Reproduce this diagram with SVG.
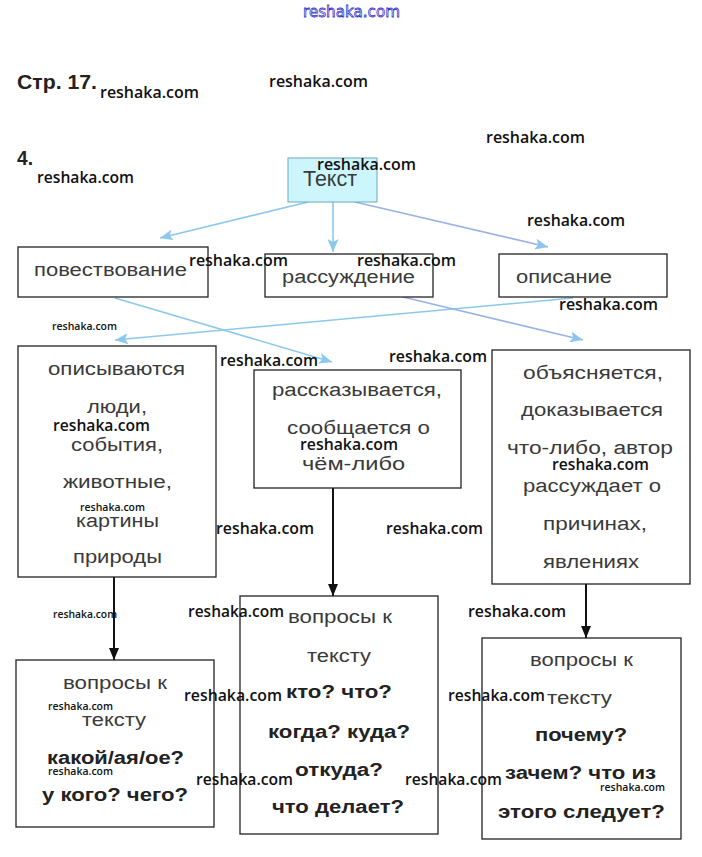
<svg xmlns="http://www.w3.org/2000/svg" width="702" height="857" viewBox="0 0 702 857">
<defs>
<marker id="ab" markerUnits="userSpaceOnUse" markerWidth="13" markerHeight="11" viewBox="0 0 13 11" refX="13" refY="5.5" orient="auto"><path d="M0,0 L13,5.5 L0,11 L3,5.5 Z" fill="#8cc8ee"/></marker>
<marker id="ap" markerUnits="userSpaceOnUse" markerWidth="13" markerHeight="11" viewBox="0 0 13 11" refX="13" refY="5.5" orient="auto"><path d="M0,0 L13,5.5 L0,11 L3,5.5 Z" fill="#8cc4ee"/></marker>
<marker id="ak" markerUnits="userSpaceOnUse" markerWidth="12" markerHeight="10" viewBox="0 0 12 10" refX="12" refY="5" orient="auto"><path d="M0,0 L12,5 L0,10 Z" fill="#111"/></marker>
</defs>
<style>
.box{fill:#fff;stroke:#222;stroke-width:1.3}
.t{font-family:"Liberation Sans",Arial,sans-serif;font-size:18px;fill:#3a3a3a}
.b{font-family:"Liberation Sans",Arial,sans-serif;font-size:18px;font-weight:bold;fill:#222}
.w{font-family:"Open Sans","Liberation Sans",sans-serif;font-size:16px;font-weight:600;fill:#111}
.ws{font-family:"Open Sans","Liberation Sans",sans-serif;font-size:11px;font-weight:600;fill:#111}
.h{font-family:"Liberation Sans",Arial,sans-serif;font-size:20px;font-weight:bold;fill:#222}
.cb{stroke:#8cc8ee;stroke-width:1.6;fill:none}
.cp{stroke:#98b4e6;stroke-width:1.6;fill:none}
.ck{stroke:#111;stroke-width:2;fill:none}
</style>
<rect width="702" height="857" fill="#fff"/>
<text x="303" y="17" textLength="97" lengthAdjust="spacingAndGlyphs" style="font-family:'DejaVu Sans',sans-serif;font-size:16px;fill:#fff;stroke:#3535cc;stroke-width:0.8">reshaka.com</text>
<text class="h" x="17" y="89" textLength="80" lengthAdjust="spacingAndGlyphs">Стр. 17.</text>
<text class="h" x="17" y="165" textLength="16" lengthAdjust="spacingAndGlyphs">4.</text>

<g id="connectors">
<line class="cb" x1="308" y1="202" x2="160" y2="238" marker-end="url(#ab)"/>
<line class="cb" x1="333" y1="202" x2="333" y2="252" marker-end="url(#ab)"/>
<line class="cp" x1="355" y1="202" x2="548" y2="247" marker-end="url(#ap)"/>
<line class="cb" x1="115" y1="298" x2="332" y2="362" marker-end="url(#ab)"/>
<line class="cb" x1="573" y1="298" x2="115" y2="340" marker-end="url(#ab)"/>
<line class="cp" x1="403" y1="297" x2="583" y2="340" marker-end="url(#ap)"/>
<line class="ck" x1="114" y1="577" x2="114" y2="660" marker-end="url(#ak)"/>
<line class="ck" x1="333" y1="488" x2="333" y2="596" marker-end="url(#ak)"/>
<line class="ck" x1="586" y1="584" x2="586" y2="638" marker-end="url(#ak)"/>
</g>

<g id="n-text">
<rect x="288" y="158" width="89" height="44" fill="#ccf6fc" stroke="#6aaabb" stroke-width="1"/>
<text class="t" x="303" y="186" textLength="54" lengthAdjust="spacingAndGlyphs" style="font-size:22px">Текст</text>
</g>
<g id="n-povest">
<rect class="box" x="18" y="247" width="190" height="50"/>
<text class="t" x="34" y="276" textLength="153" lengthAdjust="spacingAndGlyphs">повествование</text>
</g>
<g id="n-rassuzh">
<rect class="box" x="265" y="254" width="168" height="43"/>
<text class="t" x="282" y="283" textLength="133" lengthAdjust="spacingAndGlyphs">рассуждение</text>
</g>
<g id="n-opis">
<rect class="box" x="499" y="254" width="168" height="43"/>
<text class="t" x="516" y="283" textLength="96" lengthAdjust="spacingAndGlyphs">описание</text>
</g>

<g id="n-opis-desc">
<rect class="box" x="18" y="346" width="198" height="231"/>
<text class="t" x="48" y="375" textLength="137" lengthAdjust="spacingAndGlyphs">описываются</text>
<text class="t" x="87" y="413" textLength="60" lengthAdjust="spacingAndGlyphs">люди,</text>
<text class="t" x="71" y="451" textLength="92" lengthAdjust="spacingAndGlyphs">события,</text>
<text class="t" x="63" y="488" textLength="109" lengthAdjust="spacingAndGlyphs">животные,</text>
<text class="t" x="76" y="527" textLength="83" lengthAdjust="spacingAndGlyphs">картины</text>
<text class="t" x="73" y="563" textLength="89" lengthAdjust="spacingAndGlyphs">природы</text>
</g>
<g id="n-povest-desc">
<rect class="box" x="254" y="370" width="207" height="118"/>
<text class="t" x="272" y="396" textLength="170" lengthAdjust="spacingAndGlyphs">рассказывается,</text>
<text class="t" x="287" y="434" textLength="143" lengthAdjust="spacingAndGlyphs">сообщается о</text>
<text class="t" x="302" y="470" textLength="103" lengthAdjust="spacingAndGlyphs">чём-либо</text>
</g>
<g id="n-rass-desc">
<rect class="box" x="492" y="350" width="198" height="234"/>
<text class="t" x="523" y="379" textLength="140" lengthAdjust="spacingAndGlyphs">объясняется,</text>
<text class="t" x="521" y="416" textLength="142" lengthAdjust="spacingAndGlyphs">доказывается</text>
<text class="t" x="507" y="454" textLength="166" lengthAdjust="spacingAndGlyphs">что-либо, автор</text>
<text class="t" x="523" y="492" textLength="138" lengthAdjust="spacingAndGlyphs">рассуждает о</text>
<text class="t" x="543" y="530" textLength="104" lengthAdjust="spacingAndGlyphs">причинах,</text>
<text class="t" x="543" y="568" textLength="96" lengthAdjust="spacingAndGlyphs">явлениях</text>
</g>

<g id="n-q-opis">
<rect class="box" x="16" y="660" width="198" height="167"/>
<text class="t" x="63" y="689" textLength="104" lengthAdjust="spacingAndGlyphs">вопросы к</text>
<text class="t" x="82" y="726" textLength="64" lengthAdjust="spacingAndGlyphs">тексту</text>
<text class="b" x="47" y="764" textLength="137" lengthAdjust="spacingAndGlyphs">какой/ая/ое?</text>
<text class="b" x="42" y="801" textLength="146" lengthAdjust="spacingAndGlyphs">у кого? чего?</text>
</g>
<g id="n-q-povest">
<rect class="box" x="240" y="596" width="198" height="238"/>
<text class="t" x="288" y="623" textLength="104" lengthAdjust="spacingAndGlyphs">вопросы к</text>
<text class="t" x="307" y="662" textLength="64" lengthAdjust="spacingAndGlyphs">тексту</text>
<text class="b" x="286" y="698" textLength="106" lengthAdjust="spacingAndGlyphs">кто? что?</text>
<text class="b" x="268" y="738" textLength="142" lengthAdjust="spacingAndGlyphs">когда? куда?</text>
<text class="b" x="295" y="776" textLength="88" lengthAdjust="spacingAndGlyphs">откуда?</text>
<text class="b" x="272" y="813" textLength="132" lengthAdjust="spacingAndGlyphs">что делает?</text>
</g>
<g id="n-q-rass">
<rect class="box" x="482" y="638" width="199" height="201"/>
<text class="t" x="530" y="666" textLength="103" lengthAdjust="spacingAndGlyphs">вопросы к</text>
<text class="t" x="547" y="704" textLength="65" lengthAdjust="spacingAndGlyphs">тексту</text>
<text class="b" x="535" y="741" textLength="92" lengthAdjust="spacingAndGlyphs">почему?</text>
<text class="b" x="505" y="779" textLength="151" lengthAdjust="spacingAndGlyphs">зачем? что из</text>
<text class="b" x="498" y="818" textLength="167" lengthAdjust="spacingAndGlyphs">этого следует?</text>
</g>

<g id="watermarks">
<text class="w" x="100" y="98" textLength="99" lengthAdjust="spacingAndGlyphs">reshaka.com</text>
<text class="w" x="269" y="87" textLength="99" lengthAdjust="spacingAndGlyphs">reshaka.com</text>
<text class="w" x="486" y="143" textLength="99" lengthAdjust="spacingAndGlyphs">reshaka.com</text>
<text class="w" x="37" y="183" textLength="97" lengthAdjust="spacingAndGlyphs">reshaka.com</text>
<text class="w" x="317" y="170" textLength="99" lengthAdjust="spacingAndGlyphs">reshaka.com</text>
<text class="w" x="527" y="226" textLength="98" lengthAdjust="spacingAndGlyphs">reshaka.com</text>
<text class="w" x="189" y="266" textLength="99" lengthAdjust="spacingAndGlyphs">reshaka.com</text>
<text class="w" x="357" y="266" textLength="99" lengthAdjust="spacingAndGlyphs">reshaka.com</text>
<text class="w" x="559" y="310" textLength="99" lengthAdjust="spacingAndGlyphs">reshaka.com</text>
<text class="ws" x="52" y="330" textLength="65" lengthAdjust="spacingAndGlyphs">reshaka.com</text>
<text class="w" x="220" y="366" textLength="98" lengthAdjust="spacingAndGlyphs">reshaka.com</text>
<text class="w" x="389" y="362" textLength="98" lengthAdjust="spacingAndGlyphs">reshaka.com</text>
<text class="w" x="53" y="431" textLength="97" lengthAdjust="spacingAndGlyphs">reshaka.com</text>
<text class="ws" x="80" y="511" textLength="65" lengthAdjust="spacingAndGlyphs">reshaka.com</text>
<text class="w" x="300" y="450" textLength="98" lengthAdjust="spacingAndGlyphs">reshaka.com</text>
<text class="w" x="552" y="470" textLength="97" lengthAdjust="spacingAndGlyphs">reshaka.com</text>
<text class="w" x="216" y="534" textLength="98" lengthAdjust="spacingAndGlyphs">reshaka.com</text>
<text class="w" x="386" y="534" textLength="97" lengthAdjust="spacingAndGlyphs">reshaka.com</text>
<text class="ws" x="53" y="618" textLength="64" lengthAdjust="spacingAndGlyphs">reshaka.com</text>
<text class="w" x="188" y="617" textLength="96" lengthAdjust="spacingAndGlyphs">reshaka.com</text>
<text class="w" x="468" y="617" textLength="98" lengthAdjust="spacingAndGlyphs">reshaka.com</text>
<text class="ws" x="48" y="710" textLength="65" lengthAdjust="spacingAndGlyphs">reshaka.com</text>
<text class="w" x="184" y="701" textLength="98" lengthAdjust="spacingAndGlyphs">reshaka.com</text>
<text class="w" x="448" y="701" textLength="97" lengthAdjust="spacingAndGlyphs">reshaka.com</text>
<text class="ws" x="48" y="775" textLength="65" lengthAdjust="spacingAndGlyphs">reshaka.com</text>
<text class="w" x="196" y="785" textLength="97" lengthAdjust="spacingAndGlyphs">reshaka.com</text>
<text class="w" x="405" y="785" textLength="97" lengthAdjust="spacingAndGlyphs">reshaka.com</text>
<text class="ws" x="600" y="791" textLength="65" lengthAdjust="spacingAndGlyphs">reshaka.com</text>
</g>
</svg>
